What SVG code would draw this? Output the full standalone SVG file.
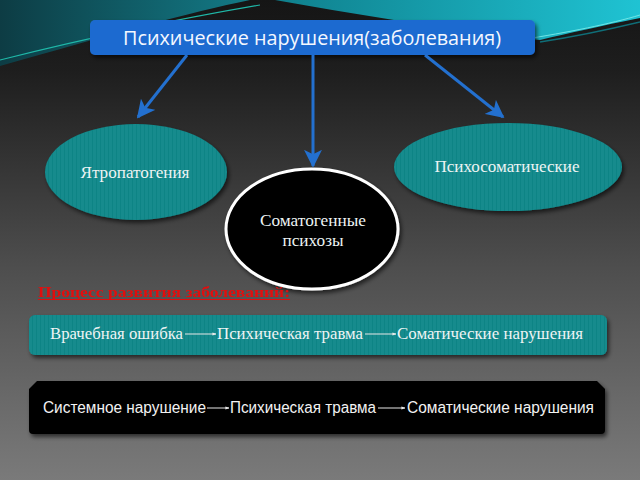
<svg xmlns="http://www.w3.org/2000/svg" width="640" height="480" viewBox="0 0 640 480">
<defs>
<linearGradient id="bg" x1="0" y1="0" x2="0" y2="1">
<stop offset="0" stop-color="#151515"/>
<stop offset="0.15" stop-color="#1e1e1e"/>
<stop offset="0.55" stop-color="#4d4d4d"/>
<stop offset="1" stop-color="#7a7a7a"/>
</linearGradient>
<linearGradient id="tealL" x1="0" y1="0" x2="1" y2="0">
<stop offset="0" stop-color="#0d3c44"/>
<stop offset="1" stop-color="#137a86"/>
</linearGradient>
<linearGradient id="tealR" x1="0" y1="0" x2="1" y2="0">
<stop offset="0" stop-color="#0f7f8c"/>
<stop offset="1" stop-color="#1fc3d3"/>
</linearGradient>
<pattern id="stripes" width="4" height="10" patternUnits="userSpaceOnUse">
<rect width="4" height="10" fill="#138b8d"/>
<rect width="1" height="10" fill="#0f7f81" opacity="0.6"/>
</pattern>
<filter id="shadow" x="-10%" y="-10%" width="130%" height="140%">
<feDropShadow dx="2" dy="3" stdDeviation="2" flood-color="#000" flood-opacity="0.6"/>
</filter>
<filter id="soft" x="-5%" y="-30%" width="110%" height="160%">
<feGaussianBlur stdDeviation="0.3"/>
</filter>
<marker id="bigArrow" viewBox="0 0 10 10" refX="9" refY="5" markerWidth="6" markerHeight="6" orient="auto" markerUnits="strokeWidth">
<path d="M0,0 L10,5 L0,10 L2.5,5 Z" fill="#2370cf"/>
</marker>
<marker id="smallArrow" viewBox="0 0 10 10" refX="9" refY="5" markerWidth="4" markerHeight="4" orient="auto" markerUnits="userSpaceOnUse">
<path d="M0,1 L10,5 L0,9 Z" fill="#eaeaea"/>
</marker>
</defs>
<style>
.node-text{fill:#eef4f4;font-family:"Liberation Serif","DejaVu Serif",serif;font-size:16px;text-anchor:middle}
.title-text{fill:#f4f8ff;font-family:"Open Sans","Liberation Sans",sans-serif;font-size:20px}
.row-text{fill:#eef4f4;font-family:"Liberation Serif","DejaVu Serif",serif;font-size:16px}
.row-text2{fill:#f2f2f2;font-family:"Liberation Sans","DejaVu Sans",sans-serif;font-size:16px}
.big{stroke:#2370cf;stroke-width:3;fill:none;marker-end:url(#bigArrow)}
.small{stroke:#e6e6e6;stroke-width:1;fill:none;marker-end:url(#smallArrow)}
</style>
<rect width="640" height="480" fill="url(#bg)"/>
<path d="M0,0 L250,0 C190,12 110,35 0,66 Z" fill="url(#tealL)"/>
<path d="M0,60 C80,40 160,22 260,5" stroke="#1fb8a8" stroke-width="1.2" fill="none"/>
<path d="M275,0 L640,0 L640,18 C600,26 570,33 540,40 C450,30 360,15 275,0 Z" fill="url(#tealR)"/>
<path d="M520,40 C570,32 610,24 640,15" stroke="#6ee6e6" stroke-width="1" fill="none"/>
<path d="M540,42 C580,36 615,28 640,22" stroke="#0f6e78" stroke-width="1.5" fill="none"/>

<g id="title">
<rect x="90" y="20" width="445" height="35" rx="5" fill="#1f6bd0" filter="url(#shadow)"/>
<text class="title-text" x="123" y="45" textLength="378" lengthAdjust="spacingAndGlyphs">Психические нарушения(заболевания)</text>
</g>

<g id="node-yatro">
<ellipse cx="136" cy="172" rx="91" ry="48" fill="url(#stripes)" filter="url(#shadow)"/>
<text class="node-text" x="135" y="178" textLength="109" lengthAdjust="spacingAndGlyphs">Ятропатогения</text>
</g>

<g id="node-psycho">
<ellipse cx="508" cy="167" rx="114" ry="44" fill="url(#stripes)" filter="url(#shadow)"/>
<text class="node-text" x="507" y="172" textLength="145" lengthAdjust="spacingAndGlyphs">Психосоматические</text>
</g>

<g id="node-somato">
<ellipse cx="312" cy="229" rx="86" ry="60" fill="#000" stroke="#ffffff" stroke-width="3" filter="url(#shadow)"/>
<text class="node-text" x="313" y="226" textLength="106" lengthAdjust="spacingAndGlyphs">Соматогенные</text>
<text class="node-text" x="313" y="246" textLength="61" lengthAdjust="spacingAndGlyphs">психозы</text>
</g>

<g id="process-label" filter="url(#soft)">
<text x="38" y="297" fill="#e21010" font-family="Liberation Serif, serif" font-size="15" font-weight="bold" textLength="252" lengthAdjust="spacingAndGlyphs">Процесс развития заболеваний:</text>
<line x1="38" y1="299.5" x2="290" y2="299.5" stroke="#e21010" stroke-width="1.2"/>
</g>

<g id="row-teal">
<rect x="29" y="315" width="578" height="40" rx="6" fill="url(#stripes)" filter="url(#shadow)"/>
<text class="row-text" x="50" y="339" textLength="133" lengthAdjust="spacingAndGlyphs">Врачебная ошибка</text>
<text class="row-text" x="217" y="339" textLength="146" lengthAdjust="spacingAndGlyphs">Психическая травма</text>
<text class="row-text" x="397" y="339" textLength="186" lengthAdjust="spacingAndGlyphs">Соматические нарушения</text>
</g>

<g id="row-black">
<path d="M37,381 L597,381 L605,389 L605,430 Q605,434 601,434 L33,434 Q29,434 29,430 L29,389 Z" fill="#000" filter="url(#shadow)"/>
<text class="row-text2" x="43" y="413" textLength="163" lengthAdjust="spacingAndGlyphs">Системное нарушение</text>
<text class="row-text2" x="230" y="413" textLength="146" lengthAdjust="spacingAndGlyphs">Психическая травма</text>
<text class="row-text2" x="407" y="413" textLength="187" lengthAdjust="spacingAndGlyphs">Соматические нарушения</text>
</g>

<g id="connectors">
<line class="big" x1="187" y1="55" x2="138" y2="117"/>
<line class="big" x1="313" y1="55" x2="313" y2="166"/>
<line class="big" x1="425" y1="55" x2="503" y2="117"/>
<line class="small" x1="185" y1="334" x2="216" y2="334"/>
<line class="small" x1="365" y1="334" x2="396" y2="334"/>
<line class="small" x1="207" y1="408" x2="229" y2="408"/>
<line class="small" x1="378" y1="408" x2="405" y2="408"/>
</g>
</svg>
